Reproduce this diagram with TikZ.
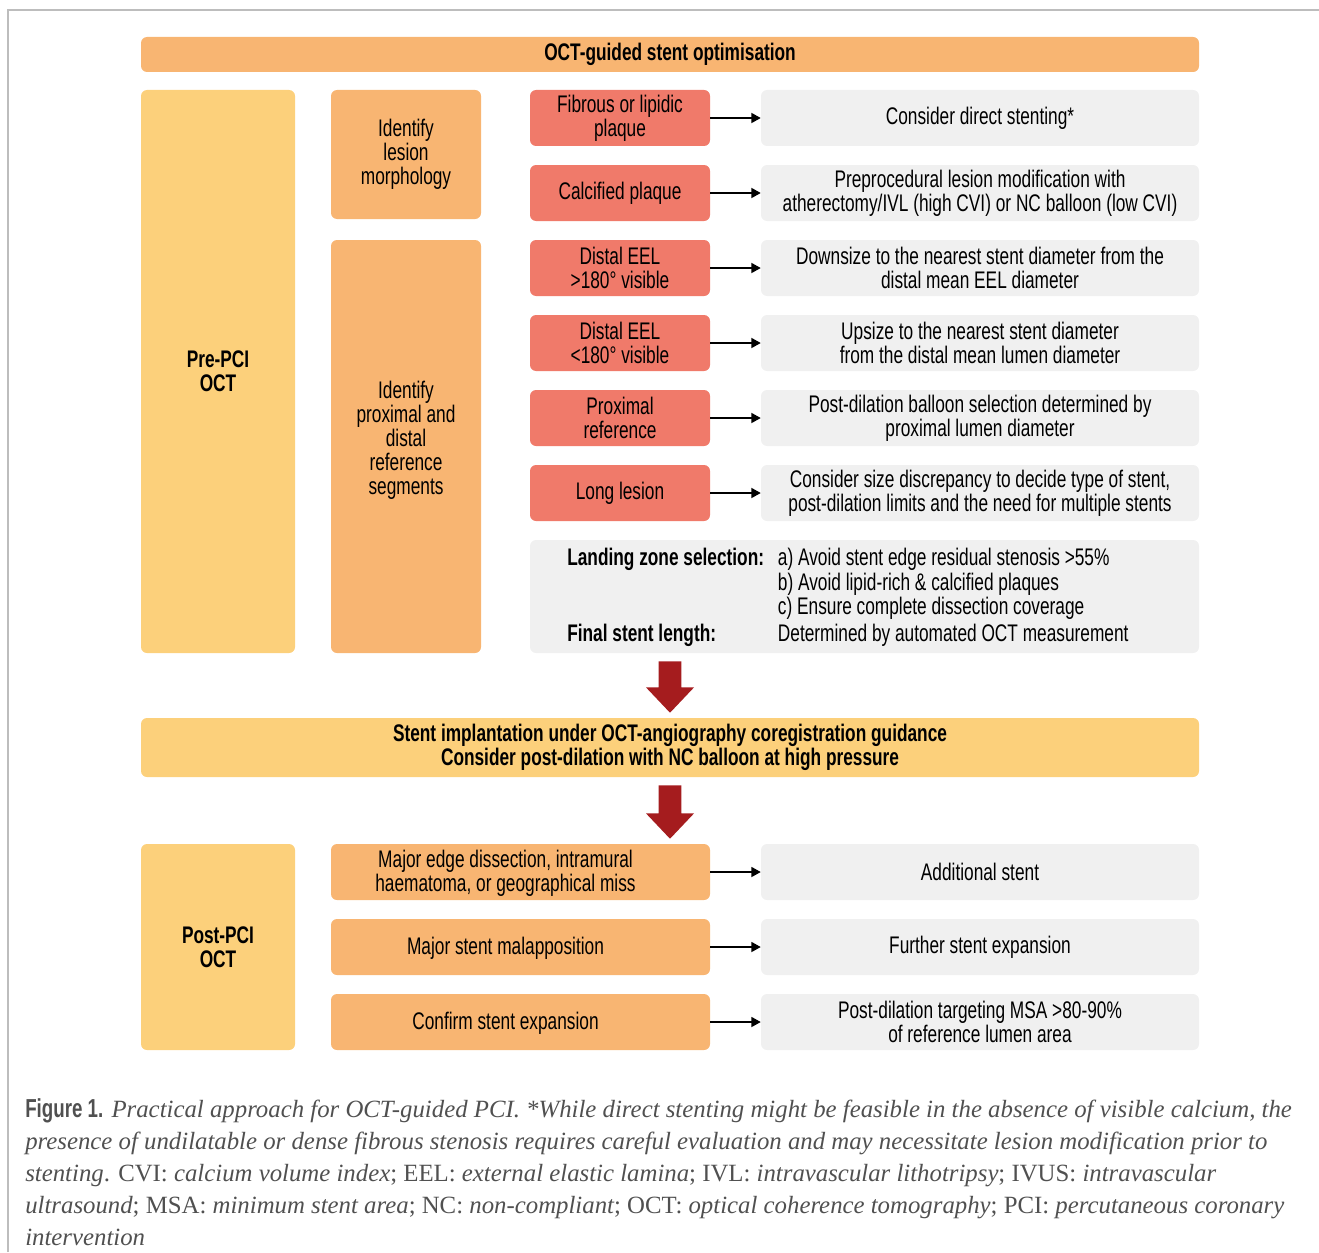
\documentclass[tikz,border=0pt]{standalone}
\usepackage{fontspec}
\setmainfont{Liberation Sans}[FakeStretch=0.72]
\newfontfamily\captionfont{Liberation Serif}
\usetikzlibrary{arrows.meta}
\usetikzlibrary{calc}

\definecolor{headOrange}{HTML}{F8B572}
\definecolor{paleYellow}{HTML}{FCD07B}
\definecolor{plaqueRed}{HTML}{F07A6A}
\definecolor{actionGrey}{HTML}{F0F0F0}
\definecolor{arrowRed}{HTML}{A51C1E}
\definecolor{frameGrey}{HTML}{BDBDBD}
\definecolor{captionGrey}{HTML}{505050}

\newcommand{\drawBox}[5]{
	\path let
		\p1 = #1, \p2 = #2
		in
		node[box, #4, minimum width={abs(\x2-\x1)}, minimum height={abs(\y2-\y1)}]
			(#3) at ({(\x1+\x2)/2}, {(\y1+\y2)/2}) {#5};
}
\newcommand{\drawBlockArrow}[2]{
	\fill[bigarrow] let
		\p1 = ($#1+(0,8)$), \p2 = ($#2+(0,-5)$)
		in
		(\x1-8.6pt,\y1) -- (\x1+8.6pt,\y1) -- (\x1+8.6pt,\y2+19pt) -- (\x1+18pt,\y2+19pt)
		-- (\x1,\y2) -- (\x1-18pt,\y2+19pt) -- (\x1-8.6pt,\y2+19pt) -- cycle;
}

\begin{document}
\begin{tikzpicture}[x=0.75pt, y=-0.75pt,
		box/.style={rounded corners=4.5pt, inner sep=0pt, align=center, font=\fontsize{18}{18}\selectfont},
		boxtext/.style={inner sep=0pt, align=center, font=\fontsize{18}{18}\selectfont},
		titlebox/.style={fill=headOrange, font=\fontsize{18}{18}\selectfont\bfseries},
		stagebox/.style={fill=paleYellow, font=\fontsize{18}{18}\selectfont\bfseries},
		taskbox/.style={fill=headOrange},
		findbox/.style={fill=plaqueRed},
		actbox/.style={fill=actionGrey},
		link/.style={line width=1.1pt, -{Triangle[length=7pt, width=7.5pt]}},
		bigarrow/.style={fill=arrowRed},
		frame/.style={draw=frameGrey, line width=1.1pt},
		caption/.style={inner sep=0pt, align=left, text=captionGrey,
			font=\captionfont\itshape\fontsize{18.6}{24}\selectfont}]
		\useasboundingbox (0,0) rectangle (1319,1252);
		\draw[frame] (8,1252) -- (8,10) -- (1319,10);

		\drawBox{(141,37)}{(1199,72)}{title}{titlebox}{OCT-guided stent optimisation}
		\drawBox{(141,90)}{(295,653)}{prepci}{stagebox}{Pre-PCI\\OCT}
		\drawBox{(331,90)}{(481,219)}{morph}{taskbox}{Identify\\lesion\\morphology}
		\drawBox{(331,240)}{(481,653)}{refseg}{taskbox}{}
		\node[boxtext] (refsegtext) at ($(refseg.center)+(0,-6)$) {Identify\\proximal and\\distal\\reference\\segments};

		\drawBox{(530,90)}{(710,146)}{fibrous}{findbox}{Fibrous or lipidic\\plaque}
		\drawBox{(761,90)}{(1199,146)}{direct}{actbox}{Consider direct stenting*}
		\drawBox{(530,165)}{(710,221)}{calcified}{findbox}{Calcified plaque}
		\drawBox{(761,165)}{(1199,221)}{modify}{actbox}{Preprocedural lesion modification with\\atherectomy/IVL (high CVI) or NC balloon (low CVI)}
		\drawBox{(530,240)}{(710,296)}{eelwide}{findbox}{Distal EEL\\>180° visible}
		\drawBox{(761,240)}{(1199,296)}{downsize}{actbox}{Downsize to the nearest stent diameter from the\\distal mean EEL diameter}
		\drawBox{(530,315)}{(710,371)}{eelnarrow}{findbox}{Distal EEL\\<180° visible}
		\drawBox{(761,315)}{(1199,371)}{upsize}{actbox}{Upsize to the nearest stent diameter\\from the distal mean lumen diameter}
		\drawBox{(530,390)}{(710,446)}{proxref}{findbox}{Proximal\\reference}
		\drawBox{(761,390)}{(1199,446)}{balloon}{actbox}{Post-dilation balloon selection determined by\\proximal lumen diameter}
		\drawBox{(530,465)}{(710,521)}{long}{findbox}{Long lesion}
		\drawBox{(761,465)}{(1199,521)}{discrep}{actbox}{Consider size discrepancy to decide type of stent,\\post-dilation limits and the need for multiple stents}
		\drawBox{(530,540)}{(1199,653)}{landing}{actbox}{}
		\node[anchor=north west, inner sep=0pt, font=\fontsize{18}{18}\selectfont] (landtext) at (567,548) {%
			\begin{tabular}{@{}p{158pt}@{}l@{}}
				\textbf{Landing zone selection:} & a) Avoid stent edge residual stenosis >55\% \\
				& b) Avoid lipid-rich \& calcified plaques \\
				& c) Ensure complete dissection coverage \\[1.5pt]
				\textbf{Final stent length:} & Determined by automated OCT measurement
			\end{tabular}};

		\draw[link] (fibrous) -- (direct);
		\draw[link] (calcified) -- (modify);
		\draw[link] (eelwide) -- (downsize);
		\draw[link] (eelnarrow) -- (upsize);
		\draw[link] (proxref) -- (balloon);
		\draw[link] (long) -- (discrep);

		\drawBox{(141,718)}{(1199,777)}{implant}{stagebox}{Stent implantation under OCT-angiography coregistration guidance\\Consider post-dilation with NC balloon at high pressure}
		\drawBlockArrow{(implant |- landing.south)}{(implant.north)}

		\drawBox{(141,844)}{(295,1050)}{postpci}{stagebox}{Post-PCI\\OCT}
		\drawBox{(331,844)}{(710,900)}{dissect}{taskbox}{}
		\node[boxtext] (dissecttext) at ($(dissect.center)+(-15,1)$) {Major edge dissection, intramural\\haematoma, or geographical miss};
		\drawBox{(761,844)}{(1199,900)}{addstent}{actbox}{Additional stent}
		\drawBox{(331,919)}{(710,975)}{malappo}{taskbox}{}
		\node[boxtext] (malappotext) at ($(malappo.center)+(-15,1)$) {Major stent malapposition};
		\drawBox{(761,919)}{(1199,975)}{expand}{actbox}{Further stent expansion}
		\drawBox{(331,994)}{(710,1050)}{confirm}{taskbox}{}
		\node[boxtext] (confirmtext) at ($(confirm.center)+(-15,1)$) {Confirm stent expansion};
		\drawBox{(761,994)}{(1199,1050)}{target}{actbox}{Post-dilation targeting MSA >80-90\%\\of reference lumen area}
		\drawBlockArrow{(implant.south)}{(implant |- postpci.north)}

		\draw[link] (dissect) -- (addstent);
		\draw[link] (malappo) -- (expand);
		\draw[link] (confirm) -- (target);

		\node[caption, anchor=north west] (caption) at (25,1098) {%
			{\normalfont\bfseries\fontsize{19.5}{24}\selectfont Figure 1.} Practical approach for OCT-guided PCI. *While direct stenting might be feasible in the absence of visible calcium, the\\
			presence of undilatable or dense fibrous stenosis requires careful evaluation and may necessitate lesion modification prior to\\
			stenting{\upshape. CVI:} calcium volume index{\upshape; EEL:} external elastic lamina{\upshape; IVL:} intravascular lithotripsy{\upshape; IVUS:} intravascular\\
			ultrasound{\upshape; MSA:} minimum stent area{\upshape; NC:} non-compliant{\upshape; OCT:} optical coherence tomography{\upshape; PCI:} percutaneous coronary\\
			intervention};
	\end{tikzpicture}
\end{document}
